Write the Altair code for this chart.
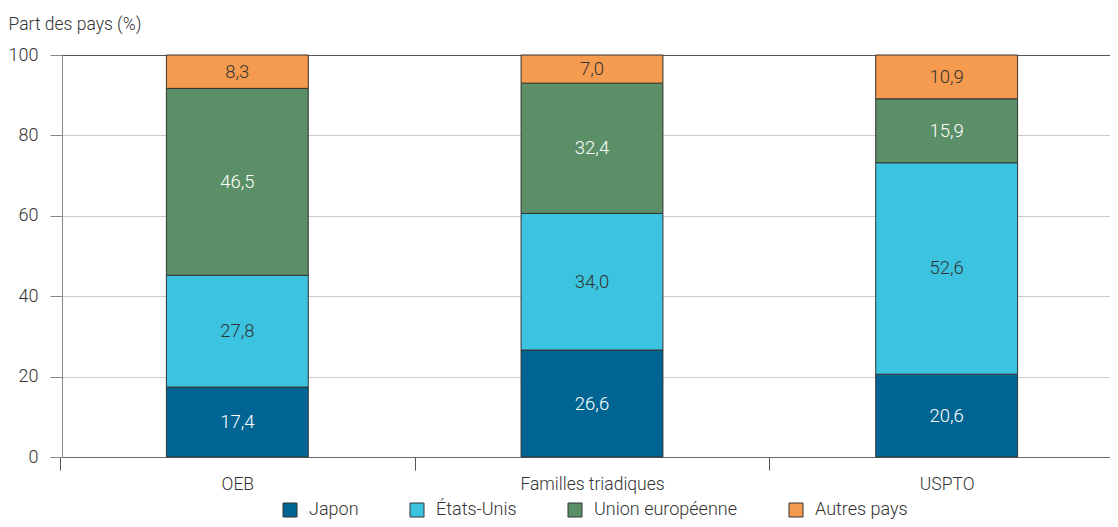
import altair as alt
import pandas as pd

categories = ["OEB", "Familles triadiques", "USPTO"]
series = ["Japon", "États-Unis", "Union européenne", "Autres pays"]
japon = [17.4, 26.6, 20.6]
etats_unis = [27.8, 34.0, 52.6]
union_europeenne = [46.5, 32.4, 15.9]
autres_pays = [8.3, 7.0, 10.9]
colors = ["#006593", "#3CC3DF", "#5A8F67", "#F59B4F"]
label_colors = ["#FFFFFF", "#333333", "#FFFFFF", "#333333"]

rows = []
for s_i, (name, vals) in enumerate(zip(series, [japon, etats_unis, union_europeenne, autres_pays])):
    for c, v in zip(categories, vals):
        rows.append({"categorie": c, "serie": name, "valeur": v, "idx": s_i,
                     "tcol": label_colors[s_i]})
df = pd.DataFrame(rows)

FONT = "Roboto, sans-serif"
W = 300

xscale = alt.Scale(domain=categories, range=[-2, 1062], paddingInner=0.6, paddingOuter=0.3)
yscale = alt.Scale(domain=[0, 100])

base = alt.Chart(df)

bars = base.mark_bar(stroke="#333333", strokeWidth=1).encode(
    x=alt.X("categorie:N", scale=xscale, sort=categories,
            axis=alt.Axis(title=None, labelAngle=0, tickSize=13, tickColor="#555555",
                          tickOffset=-177.3, labelOffset=177.3, labelPadding=5,
                          labelFontSize=17.5, labelColor="#333333", labelFont=FONT,
                          labelFontWeight=W,
                          domainColor="#666666", domainWidth=1.2)),
    y=alt.Y("valeur:Q", scale=yscale, stack="zero",
            axis=alt.Axis(title="Part des pays (%)", titleAngle=0, titleX=-54, titleY=-26,
                          titleAlign="left", titleBaseline="alphabetic", titleFont=FONT,
                          titleFontSize=17.5, titleFontWeight=W, titleColor="#333333",
                          values=[0, 20, 40, 60, 80, 100], tickSize=12, tickColor="#888888",
                          labelPadding=12, labelFontSize=18, labelFont=FONT, labelColor="#333333",
                          labelFontWeight=W,
                          domainColor="#888888",
                          gridColor=alt.condition("datum.value === 100", alt.value("#555555"), alt.value("#CCCCCC")))),
    color=alt.Color("serie:N", scale=alt.Scale(domain=series, range=colors),
                    legend=alt.Legend(title=None, orient="none", direction="horizontal",
                                      legendX=219, legendY=446,
                                      symbolType="square", symbolSize=196, symbolStrokeColor="#333333",
                                      symbolStrokeWidth=1, labelFontSize=18, labelFont=FONT,
                                      labelFontWeight=W,
                                      labelColor="#333333", columnPadding=49, labelOffset=10)),
    order=alt.Order("idx:Q", sort="ascending"),
)

labels = base.transform_window(
    cum="sum(valeur)", groupby=["categorie"], sort=[alt.SortField("idx")]
).transform_calculate(
    mid="datum.cum - datum.valeur / 2",
    txt="replace(format(datum.valeur, '.1f'), '.', ',')",
).mark_text(font=FONT, fontSize=18.5, fontWeight=W, baseline="middle").encode(
    x=alt.X("categorie:N", scale=xscale, sort=categories),
    y=alt.Y("mid:Q", scale=yscale),
    text="txt:N",
    color=alt.Color("tcol:N", scale=None),
)

chart = alt.layer(bars, labels).properties(
    width=1048, height=402,
    autosize=alt.AutoSizeParams(type="none"),
    padding={"left": 54, "top": 47, "right": 0, "bottom": 62},
).configure_view(stroke=None).configure_axis(grid=True).configure_axisX(grid=False)

chart.save("out.html", embed_options={"renderer": "svg", "actions": False})
